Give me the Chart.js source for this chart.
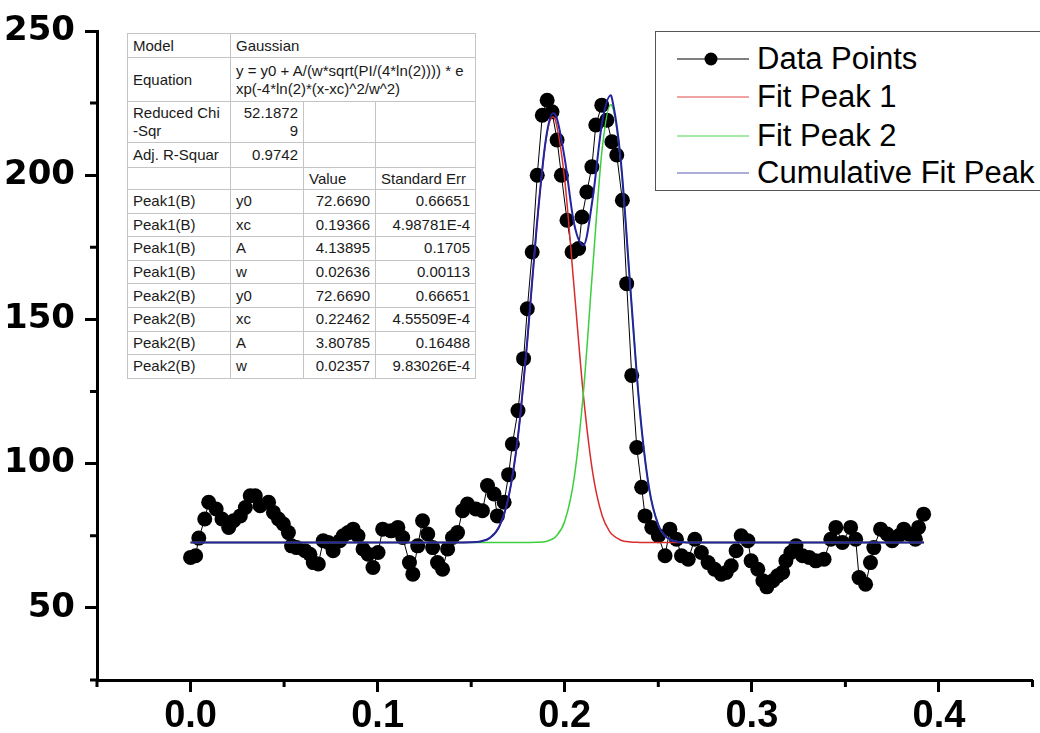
<!DOCTYPE html>
<html>
<head>
<meta charset="utf-8">
<script src="https://cdn.jsdelivr.net/npm/chart.js@4.4.1/dist/chart.umd.min.js"></script>
<style>
body { margin: 0; background: #fff; }
#wrap { position: relative; width: 1040px; height: 733px; overflow: hidden; }
#fitTable { position: absolute; left: 127px; top: 33px; border-collapse: collapse; table-layout: fixed;
  font: 15px 'Liberation Sans', Arial, sans-serif; color: #1a1a1a; border: 1px solid #8a8a8a; background: #fff; }
#fitTable td { border: 1px solid #c4c4c4; padding: 0 5px; white-space: nowrap; line-height: 18px; overflow: hidden; }
#fitTable .r { text-align: right; }
#legend { position: absolute; left: 655px; top: 31px; width: 420px; height: 158px; border: 1.5px solid #555; background: #fff;
  font: 31px 'Liberation Sans', Arial, sans-serif; color: #000; }
#legend .item { position: absolute; left: 0; height: 36px; width: 420px; }
#legend svg { position: absolute; left: 21px; top: 0; }
#legend span { position: absolute; left: 101px; top: 0; line-height: 36px; white-space: nowrap; }
</style>
</head>
<body>
<div id="wrap">
  <canvas id="fitChart" width="1040" height="733"></canvas>

  <table id="fitTable">
    <colgroup><col style="width:103px"><col style="width:73px"><col style="width:72px"><col style="width:100px"></colgroup>
    <tr style="height:24px"><td>Model</td><td colspan="3">Gaussian</td></tr>
    <tr style="height:44px"><td>Equation</td><td colspan="3">y = y0 + A/(w*sqrt(PI/(4*ln(2)))) * e<br>xp(-4*ln(2)*(x-xc)^2/w^2)</td></tr>
    <tr style="height:41px"><td>Reduced Chi<br>-Sqr</td><td class="r">52.1872<br>9</td><td></td><td></td></tr>
    <tr style="height:25px"><td>Adj. R-Squar</td><td class="r">0.9742</td><td></td><td></td></tr>
    <tr style="height:22px"><td></td><td></td><td>Value</td><td>Standard Err</td></tr>
    <tbody id="paramRows"></tbody>
  </table>

  <div id="legend">
    <div class="item" style="top:9px">
      <svg width="76" height="36"><line x1="0" y1="18" x2="72" y2="18" stroke="#000" stroke-width="1"/><circle cx="34" cy="18" r="6.5" fill="#000"/></svg>
      <span>Data Points</span>
    </div>
    <div class="item" style="top:47px">
      <svg width="76" height="36"><line x1="0" y1="18" x2="72" y2="18" stroke="#e04848" stroke-width="1.2"/></svg>
      <span>Fit Peak 1</span>
    </div>
    <div class="item" style="top:86px">
      <svg width="76" height="36"><line x1="0" y1="18" x2="72" y2="18" stroke="#4fd24f" stroke-width="1.2"/></svg>
      <span>Fit Peak 2</span>
    </div>
    <div class="item" style="top:123px">
      <svg width="76" height="36"><line x1="0" y1="18" x2="72" y2="18" stroke="#5a5ab4" stroke-width="1.2"/></svg>
      <span>Cumulative Fit Peak</span>
    </div>
  </div>
</div>

<script>
// ---------------- Data ----------------
const dataX = [0.0000, 0.0027, 0.0044, 0.0076, 0.0097, 0.0137, 0.0168, 0.0204, 0.0230, 0.0266,
  0.0293, 0.0319, 0.0346, 0.0372, 0.0417, 0.0443, 0.0470, 0.0496, 0.0523, 0.0540,
  0.0567, 0.0612, 0.0638, 0.0656, 0.0683, 0.0709, 0.0736, 0.0762, 0.0798, 0.0816,
  0.0842, 0.0869, 0.0895, 0.0922, 0.0949, 0.0975, 0.1002, 0.1027, 0.1072, 0.1108,
  0.1134, 0.1170, 0.1188, 0.1214, 0.1240, 0.1268, 0.1294, 0.1320, 0.1347, 0.1374,
  0.1400, 0.1427, 0.1454, 0.1480, 0.1525, 0.1560, 0.1587, 0.1622, 0.1640, 0.1676,
  0.1700, 0.1720, 0.1750, 0.1780, 0.1800, 0.1826, 0.1853, 0.1880, 0.1906, 0.1932,
  0.1959, 0.1982, 0.2012, 0.2039, 0.2074, 0.2092, 0.2118, 0.2145, 0.2166, 0.2198,
  0.2225, 0.2252, 0.2278, 0.2308, 0.2331, 0.2358, 0.2385, 0.2411, 0.2429, 0.2465,
  0.2500, 0.2536, 0.2562, 0.2597, 0.2624, 0.2660, 0.2695, 0.2730, 0.2766, 0.2801,
  0.2837, 0.2863, 0.2890, 0.2916, 0.2943, 0.2979, 0.2996, 0.3032, 0.3059, 0.3080,
  0.3112, 0.3138, 0.3165, 0.3182, 0.3209, 0.3236, 0.3271, 0.3306, 0.3342, 0.3386,
  0.3422, 0.3449, 0.3484, 0.3528, 0.3555, 0.3573, 0.3608, 0.3634, 0.3652, 0.3688,
  0.3723, 0.3750, 0.3785, 0.3812, 0.3838, 0.3874, 0.3891, 0.3918];
const dataY = [67.5, 68.1, 74.2, 80.8, 86.6, 84.3, 80.8, 77.9, 80.2, 81.9,
  84.8, 88.9, 88.9, 85.4, 86.6, 83.1, 80.8, 79.1, 76.1, 71.5,
  70.9, 69.8, 68.6, 65.7, 65.2, 73.3, 72.7, 69.8, 73.3, 75.0,
  76.1, 77.3, 75.0, 70.4, 68.6, 64.0, 69.2, 77.3, 76.7, 77.9,
  74.4, 65.7, 61.7, 71.5, 80.2, 75.6, 70.9, 65.7, 63.4, 70.4,
  74.4, 76.1, 83.7, 86.0, 84.3, 83.7, 92.4, 89.5, 81.9, 86.6,
  96.2, 106.8, 118.4, 136.4, 153.7, 173.4, 200.0, 220.8, 226.0, 222.0,
  212.2, 200.0, 184.4, 173.4, 174.6, 185.5, 194.2, 202.9, 217.4, 224.3,
  219.1, 211.6, 207.0, 191.3, 162.4, 130.6, 105.6, 91.8, 81.9, 77.9,
  75.0, 68.1, 77.3, 73.8, 68.1, 66.9, 73.8, 69.2, 65.7, 63.4,
  61.7, 62.3, 64.6, 69.8, 75.0, 73.3, 66.3, 63.4, 59.4, 57.3,
  59.4, 61.1, 62.3, 66.3, 69.2, 71.5, 68.1, 67.5, 66.3, 66.9,
  73.8, 77.9, 72.7, 77.9, 73.8, 60.5, 58.2, 65.7, 70.9, 77.3,
  75.6, 73.3, 75.0, 77.3, 75.6, 73.8, 77.9, 82.5];

// fitted curves
const fitX = [0, 0.14, 0.15, 0.155, 0.16, 0.165, 0.17, 0.175, 0.18, 0.185,
  0.19, 0.1937, 0.195, 0.2, 0.205, 0.21, 0.215, 0.22, 0.2246, 0.225,
  0.23, 0.235, 0.24, 0.245, 0.25, 0.255, 0.26, 0.265, 0.27, 0.392];
const peak1Y = [72.67, 72.67, 72.74, 73.05, 74.27, 78.23, 88.47, 109.43, 142.72, 182.02,
  212.49, 220.17, 219.12, 198.31, 160.97, 123.50, 96.63, 81.93, 75.90, 75.60,
  73.43, 72.83, 72.70, 72.67, 72.67, 72.67, 72.67, 72.67, 72.67, 72.67];
const peak2Y = [72.67, 72.67, 72.67, 72.67, 72.67, 72.67, 72.67, 72.67, 72.68, 72.73,
  73.05, 73.96, 74.57, 80.04, 94.90, 124.91, 168.32, 209.13, 224.47, 224.36,
  204.05, 161.33, 119.29, 91.77, 78.77, 74.19, 72.96, 72.71, 72.67, 72.67];
const cumY = [72.67, 72.67, 72.74, 73.05, 74.27, 78.23, 88.47, 109.43, 142.73, 182.08,
  212.87, 221.46, 221.02, 205.68, 183.20, 175.74, 192.28, 218.39, 227.70, 227.29,
  204.81, 161.49, 119.32, 91.77, 78.77, 74.19, 72.96, 72.71, 72.67, 72.67];

const xMajor = [0, 0.1, 0.2, 0.3, 0.4];
const xMinor = [-0.05, 0.05, 0.15, 0.25, 0.35, 0.45];
const yMajor = [50, 100, 150, 200, 250];
const yMinor = [25, 75, 125, 175, 225];

// table rows: name, param, value, error
const paramNames = ['Peak1(B)', 'Peak1(B)', 'Peak1(B)', 'Peak1(B)', 'Peak2(B)', 'Peak2(B)', 'Peak2(B)', 'Peak2(B)'];
const paramKeys = ['y0', 'xc', 'A', 'w', 'y0', 'xc', 'A', 'w'];
const paramValues = ['72.6690', '0.19366', '4.13895', '0.02636', '72.6690', '0.22462', '3.80785', '0.02357'];
const paramErrors = ['0.66651', '4.98781E-4', '0.1705', '0.00113', '0.66651', '4.55509E-4', '0.16488', '9.83026E-4'];

// ---------------- Table ----------------
const paramRows = document.getElementById('paramRows');
paramNames.forEach((n, i) => {
    paramRows.innerHTML += `<tr style="height:23.6px"><td>${n}</td><td>${paramKeys[i]}</td>
      <td class="r">${paramValues[i]}</td><td class="r">${paramErrors[i]}</td></tr>`;
});

// ---------------- Chart ----------------
const pts = (xs, ys) => xs.map((x, i) => ({ x, y: ys[i] }));

const minorTicks = {
    id: 'minorTicks',
    afterDraw(chart) {
        const { ctx, chartArea, scales } = chart;
        ctx.save();
        ctx.strokeStyle = '#000';
        ctx.lineWidth = 3;
        ctx.beginPath();
        xMinor.forEach(v => {
            const px = scales.x.getPixelForValue(v);
            ctx.moveTo(px, chartArea.bottom);
            ctx.lineTo(px, chartArea.bottom + 7);
        });
        yMinor.forEach(v => {
            const py = scales.y.getPixelForValue(v);
            ctx.moveTo(chartArea.left, py);
            ctx.lineTo(chartArea.left - 7, py);
        });
        ctx.stroke();
        ctx.restore();
    }
};

const fitLine = (label, ys, color, width, order) => ({
    label, data: pts(fitX, ys), showLine: true, borderColor: color, borderWidth: width,
    pointRadius: 0, cubicInterpolationMode: 'monotone', order
});

new Chart(document.getElementById('fitChart'), {
    type: 'scatter',
    data: {
        datasets: [
            { label: 'Data Points', data: pts(dataX, dataY), showLine: true, borderColor: '#000', borderWidth: 1,
              pointRadius: 7.5, pointBackgroundColor: '#000', pointBorderWidth: 0, order: 4 },
            fitLine('Fit Peak 1', peak1Y, '#d82c2c', 1.5, 3),
            fitLine('Fit Peak 2', peak2Y, '#3ccf3c', 1.5, 2),
            fitLine('Cumulative Fit Peak', cumY, '#2424a0', 2, 1)
        ]
    },
    options: {
        responsive: false,
        animation: false,
        layout: { padding: { top: 31, right: 3, left: 0, bottom: 0 } },
        plugins: { legend: { display: false }, tooltip: { enabled: false } },
        scales: {
            x: {
                type: 'linear', min: -0.05, max: 0.45,
                afterBuildTicks: s => { s.ticks = xMajor.map(v => ({ value: v })); },
                afterFit: s => { s.height = 53; },
                ticks: { callback: v => v.toFixed(1), color: '#000', padding: 6, maxRotation: 0, autoSkip: false,
                         font: { family: "'Liberation Sans', Arial", size: 38, weight: 'bold', lineHeight: 1 } },
                grid: { drawOnChartArea: false, drawTicks: true, tickLength: 12, tickWidth: 3, tickColor: '#000' },
                border: { display: true, color: '#000', width: 3 }
            },
            y: {
                type: 'linear', min: 25, max: 250,
                afterBuildTicks: s => { s.ticks = yMajor.map(v => ({ value: v })); },
                afterFit: s => { s.width = 97; },
                ticks: { callback: v => String(v), color: '#000', padding: 10, autoSkip: false,
                         font: { family: "'DejaVu Sans', Arial", size: 34, weight: 'bold' } },
                grid: { drawOnChartArea: false, drawTicks: true, tickLength: 12, tickWidth: 3, tickColor: '#000' },
                border: { display: true, color: '#000', width: 3 }
            }
        }
    },
    plugins: [minorTicks]
});
</script>
</body>
</html>
